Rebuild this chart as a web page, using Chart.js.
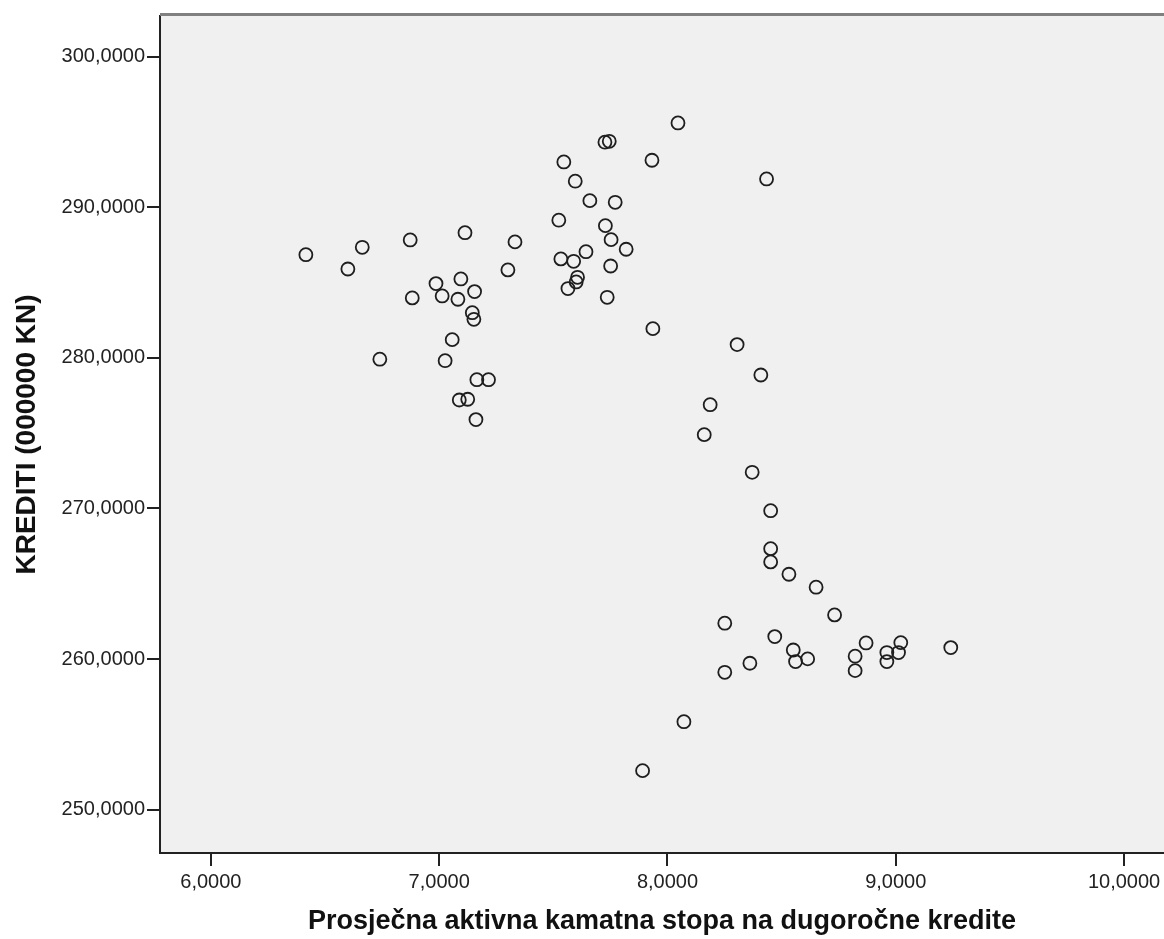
<!DOCTYPE html>
<html>
<head>
<meta charset="utf-8">
<script src="https://cdn.jsdelivr.net/npm/chart.js@4"></script>
<style>
  html, body { margin: 0; padding: 0; background: #ffffff; overflow: hidden; }
  canvas { display: block; }
</style>
</head>
<body>
<canvas id="scatter" width="1164" height="939"></canvas>
<script>
// Prosječna aktivna kamatna stopa (x) vs KREDITI (y)
let kamatnaStopa = [
    6.416, 6.663, 6.600, 6.873, 7.113, 7.332, 7.301, 6.986, 7.095, 7.013,
    7.082, 7.155, 6.882, 7.145, 7.152, 7.057, 6.740, 7.026, 7.165, 7.216,
    7.088, 7.125, 7.161,
    8.046, 7.726, 7.745, 7.546, 7.932, 7.596, 7.660, 7.771, 7.524, 7.728,
    7.753, 7.819, 7.643, 7.533, 7.589, 7.751, 7.606, 7.600, 7.564, 7.736,
    7.936,
    8.434, 8.305, 8.409, 8.187, 8.161, 8.371,
    8.452, 8.452, 8.452, 8.532, 8.651, 8.732, 8.251, 8.470, 8.551, 8.561,
    8.614, 8.870, 8.822, 8.822, 8.961, 8.961, 9.022, 9.012, 9.241, 8.251,
    8.361,
    8.072, 7.891
];
let krediti = [
    286.85, 287.34, 285.90, 287.83, 288.31, 287.70, 285.84, 284.93, 285.24, 284.11,
    283.89, 284.40, 283.98, 283.00, 282.56, 281.21, 279.91, 279.81, 278.55, 278.55,
    277.20, 277.25, 275.90,
    295.60, 294.32, 294.38, 293.01, 293.12, 291.73, 290.44, 290.33, 289.14, 288.78,
    287.85, 287.21, 287.05, 286.57, 286.41, 286.10, 285.35, 285.04, 284.60, 284.02,
    281.94,
    291.88, 280.88, 278.86, 276.89, 274.90, 272.40,
    269.85, 267.33, 266.45, 265.63, 264.77, 262.93, 262.38, 261.49, 260.60, 259.83,
    260.01, 261.07, 260.19, 259.23, 260.43, 259.83, 261.09, 260.43, 260.76, 259.12,
    259.72,
    255.84, 252.59
];

let xTicks = [6, 7, 8, 9, 10];
let yTicks = [250, 260, 270, 280, 290, 300];
let xTitle = 'Prosječna aktivna kamatna stopa na dugoročne kredite';
let yTitle = 'KREDITI (000000 KN)';

let points = kamatnaStopa.map(function(x, i) {
    return { x: x, y: krediti[i] };
});

function spssNumber(v) {
    return v.toFixed(4).replace('.', ',');
}

// grey plot background and the top frame line
const plotFrame = {
    id: 'plotFrame',
    beforeDraw(chart) {
        const { ctx, chartArea: a } = chart;
        ctx.save();
        ctx.fillStyle = '#f0f0f0';
        ctx.fillRect(a.left, a.top, a.right - a.left, a.bottom - a.top);
        ctx.restore();
    },
    afterDraw(chart) {
        const { ctx, chartArea: a } = chart;
        ctx.save();
        ctx.strokeStyle = '#808080';
        ctx.lineWidth = 3;
        ctx.beginPath();
        ctx.moveTo(a.left, a.top - 1.5);
        ctx.lineTo(a.right, a.top - 1.5);
        ctx.stroke();
        ctx.restore();
    }
};

var config = {
    type: 'scatter',
    data: {
        datasets: [{
            data: points,
            pointRadius: 6.5,
            pointHoverRadius: 6.5,
            pointBorderWidth: 1.8,
            borderColor: '#1e1e1e',
            backgroundColor: 'rgba(0,0,0,0)'
        }]
    },
    options: {
        responsive: false,
        animation: false,
        devicePixelRatio: 1,
        layout: {
            autoPadding: false,
            padding: { top: 16, right: 0, bottom: 0, left: 0 }
        },
        plugins: {
            legend: { display: false },
            tooltip: { enabled: false }
        },
        scales: {
            x: {
                type: 'linear',
                min: 5.777,
                max: 10.175,
                afterFit: function(scale) {
                    scale.height = 86;
                    // the plot runs to the right edge of the picture
                    scale.paddingRight = 0;
                    scale.paddingLeft = 0;
                },
                afterBuildTicks: function(scale) {
                    scale.ticks = xTicks.map(function(v) { return { value: v }; });
                },
                border: { color: '#222222', width: 2 },
                grid: {
                    drawOnChartArea: false,
                    drawTicks: true,
                    tickLength: 13,
                    color: '#222222',
                    lineWidth: 2
                },
                ticks: {
                    padding: 4,
                    color: '#222222',
                    font: { family: 'Liberation Sans', size: 20 },
                    callback: spssNumber
                },
                title: {
                    display: true,
                    text: xTitle,
                    color: '#111111',
                    padding: { top: 0, bottom: 1 },
                    font: { family: 'Liberation Sans', size: 27, weight: 'bold' }
                }
            },
            y: {
                type: 'linear',
                min: 247.12,
                max: 302.70,
                afterFit: function(scale) { scale.width = 160; },
                afterBuildTicks: function(scale) {
                    scale.ticks = yTicks.map(function(v) { return { value: v }; });
                },
                border: { color: '#222222', width: 2 },
                grid: {
                    drawOnChartArea: false,
                    drawTicks: true,
                    tickLength: 13,
                    color: '#222222',
                    lineWidth: 2
                },
                ticks: {
                    padding: 2,
                    color: '#222222',
                    font: { family: 'Liberation Sans', size: 20 },
                    callback: spssNumber
                },
                title: {
                    display: true,
                    text: yTitle,
                    color: '#111111',
                    padding: { top: 10, bottom: 0 },
                    font: { family: 'Liberation Sans', size: 28, weight: 'bold' }
                }
            }
        }
    },
    plugins: [plotFrame]
};

new Chart(document.getElementById('scatter'), config);
</script>
</body>
</html>
